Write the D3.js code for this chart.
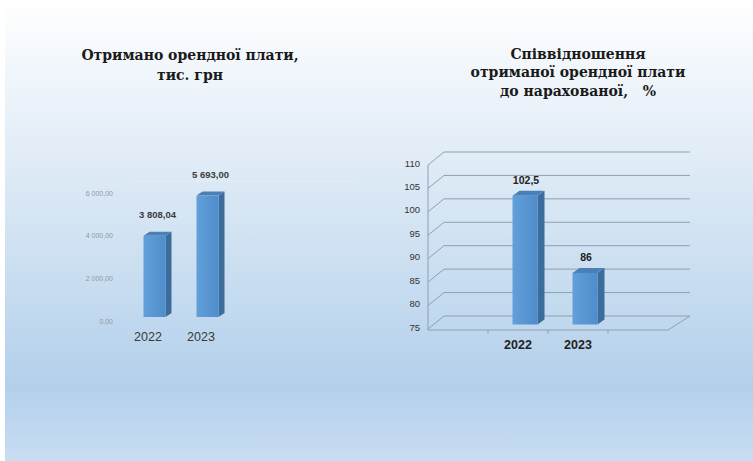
<!DOCTYPE html>
<html><head><meta charset="utf-8">
<script src="https://cdn.jsdelivr.net/npm/d3@7"></script>
<style>html,body{margin:0;padding:0;overflow:hidden;}svg{display:block;}
text.ttl{white-space:pre;}
</style>
</head><body>
<script>
// ---- data ----
const rentYears = ["2022", "2023", "", ""];
const rentValues = [3808.04, 5693.00, null, null];
const rentValueLabels = ["3 808,04", "5 693,00", "", ""];
const rentTicks = [0, 2000, 4000, 6000];
const rentTickLabels = ["0,00", "2 000,00", "4 000,00", "6 000,00"];

const ratioYears = ["", "2022", "2023", ""];
const ratioValues = [null, 102.5, 86, null];
const ratioValueLabels = ["", "102,5", "86", ""];
const ratioTicks = [75, 80, 85, 90, 95, 100, 105, 110];

const leftTitle = ["Отримано орендної плати,", "тис. грн"];
const rightTitle = ["Співвідношення", "отриманої орендної плати", "до нарахованої,   %"];

// ---- canvas ----
const W = 753, H = 461;
const svg = d3.select("body").append("svg").attr("width", W).attr("height", H);
const defs = svg.append("defs");
const bg = defs.append("linearGradient").attr("id", "bg").attr("x1", 0).attr("y1", 0).attr("x2", 0).attr("y2", 1);
[[0, "#ffffff"], [0.12, "#f4f8fc"], [0.45, "#d7e6f4"], [0.84, "#b3d0eb"], [1, "#c9ddf2"]]
  .forEach(([o, c]) => bg.append("stop").attr("offset", o).attr("stop-color", c));
const fg = defs.append("linearGradient").attr("id", "front").attr("x1", 0).attr("y1", 0).attr("x2", 1).attr("y2", 0);
[[0, "#62a0da"], [1, "#4f8ccb"]].forEach(([o, c]) => fg.append("stop").attr("offset", o).attr("stop-color", c));

svg.append("rect").attr("width", W).attr("height", H).attr("fill", "url(#bg)");
svg.append("rect").attr("width", 5).attr("height", H).attr("fill", "#ffffff");

const sans = "Liberation Sans, Arial, sans-serif";
const serif = "DejaVu Serif";

function titles(lines, cx, y0, lh) {
  svg.append("g").selectAll("text").data(lines).join("text")
    .attr("class", "ttl")
    .attr("x", cx).attr("y", (d, i) => y0 + i * lh)
    .attr("text-anchor", "middle")
    .attr("font-family", serif).attr("font-weight", "bold").attr("font-size", 14)
    .attr("fill", "#1a1a1a").text(d => d);
}
titles(leftTitle, 190, 60, 19.5);
titles(rightTitle, 578, 58.5, 18.5);

function bar3d(g, x0, x1, yTop, yBot, ddx, ddy) {
  g.append("path").attr("d", `M${x1},${yTop}L${x1 + ddx},${yTop + ddy}L${x1 + ddx},${yBot + ddy}L${x1},${yBot}Z`)
    .attr("fill", "#3b6c9c");
  g.append("path").attr("d", `M${x0},${yTop}L${x0 + ddx},${yTop + ddy}L${x1 + ddx},${yTop + ddy}L${x1},${yTop}Z`)
    .attr("fill", "#4a80b8");
  g.append("rect").attr("x", x0).attr("y", yTop).attr("width", x1 - x0).attr("height", yBot - yTop)
    .attr("fill", "url(#front)");
}

// ---- left chart ----
{
  const x = d3.scaleBand().domain(rentYears.map((d, i) => i)).range([121.5, 333.5]);
  const y = d3.scaleLinear().domain([0, 6000]).range([321, 193]);
  const g = svg.append("g");
  const dx = 12, dy = -12;
  g.append("line").attr("x1", 121.5 + dx).attr("x2", 355).attr("y1", y(6000) + dy).attr("y2", y(6000) + dy)
    .attr("stroke", "#e4ecf5").attr("stroke-width", 1);
  const yAxis = d3.axisLeft(y).tickValues(rentTicks).tickFormat((d, i) => rentTickLabels[i]).tickSize(0).tickPadding(0);
  const ya = g.append("g").attr("transform", "translate(113,0)").call(yAxis);
  ya.select(".domain").remove();
  ya.selectAll("text").attr("font-family", sans).attr("font-size", 7).attr("fill", "#8f99a4");
  const xAxis = d3.axisBottom(x).tickFormat(i => rentYears[i]).tickSize(0).tickPadding(0);
  const xa = g.append("g").attr("transform", "translate(0,332)").call(xAxis);
  xa.select(".domain").remove();
  xa.selectAll("text").attr("font-family", sans).attr("font-size", 12.5).attr("fill", "#3a3a3a");
  const bw = 22, ox = 6.5, oy = -4;
  rentValues.forEach((v, i) => {
    if (v == null) return;
    const cx = x(i) + x.bandwidth() / 2 + ox;
    bar3d(g, cx - bw / 2, cx + bw / 2, y(v) + oy, y(0) + oy, 6, -4);
    g.append("text").attr("x", cx + 3).attr("y", y(v) + oy - 18).attr("text-anchor", "middle")
      .attr("font-family", sans).attr("font-weight", "bold").attr("font-size", 9.5).attr("fill", "#3c3c3c")
      .text(rentValueLabels[i]);
  });
}

// ---- right chart ----
{
  const x = d3.scaleBand().domain(ratioYears.map((d, i) => i)).range([428, 668]);
  const y = d3.scaleLinear().domain([75, 110]).range([329, 165]);
  const g = svg.append("g");
  const dx = 16, dy = -13, backRight = 690;
  const gc = "#8f9fb2";
  ratioTicks.forEach(t => {
    g.append("line").attr("x1", 428 + dx).attr("x2", backRight).attr("y1", y(t) + dy).attr("y2", y(t) + dy)
      .attr("stroke", gc).attr("stroke-width", 1);
    g.append("line").attr("x1", 428).attr("x2", 428 + dx).attr("y1", y(t)).attr("y2", y(t) + dy)
      .attr("stroke", gc).attr("stroke-width", 1);
  });
  g.append("line").attr("x1", 428).attr("x2", 428).attr("y1", y(110)).attr("y2", y(75) + 1)
    .attr("stroke", gc).attr("stroke-width", 1);
  g.append("line").attr("x1", 428).attr("x2", 668).attr("y1", y(75) + 1).attr("y2", y(75) + 1)
    .attr("stroke", gc).attr("stroke-width", 1);
  g.append("line").attr("x1", 668).attr("x2", backRight).attr("y1", y(75) + 1).attr("y2", y(75) + dy)
    .attr("stroke", gc).attr("stroke-width", 1);
  const bounds = ratioYears.map((d, i) => x(i)).slice(1);
  g.selectAll(".ct").data(bounds).join("line").attr("x1", d => d).attr("x2", d => d)
    .attr("y1", y(75) + 1).attr("y2", y(75) + 5).attr("stroke", gc);
  const yAxis = d3.axisLeft(y).tickValues(ratioTicks).tickSize(0).tickPadding(0);
  const ya = g.append("g").attr("transform", "translate(420,-2)").call(yAxis);
  ya.select(".domain").remove();
  ya.selectAll("text").attr("font-family", sans).attr("font-size", 9.5).attr("fill", "#333");
  const xAxis = d3.axisBottom(x).tickFormat(i => ratioYears[i]).tickSize(0).tickPadding(0);
  const xa = g.append("g").attr("transform", "translate(0,340)").call(xAxis);
  xa.select(".domain").remove();
  xa.selectAll("text").attr("font-family", sans).attr("font-weight", "bold").attr("font-size", 12.5).attr("fill", "#222");
  const bw = 25, ox = 7, oy = -4.5;
  ratioValues.forEach((v, i) => {
    if (v == null) return;
    const cx = x(i) + x.bandwidth() / 2 + ox;
    bar3d(g, cx - bw / 2, cx + bw / 2, y(v) + oy, y(75) + oy, 7, -5);
    g.append("text").attr("x", cx + 1).attr("y", y(v) + oy - 12).attr("text-anchor", "middle")
      .attr("font-family", sans).attr("font-weight", "bold").attr("font-size", 10.5).attr("fill", "#222")
      .text(ratioValueLabels[i]);
  });
}
</script>
</body></html>
